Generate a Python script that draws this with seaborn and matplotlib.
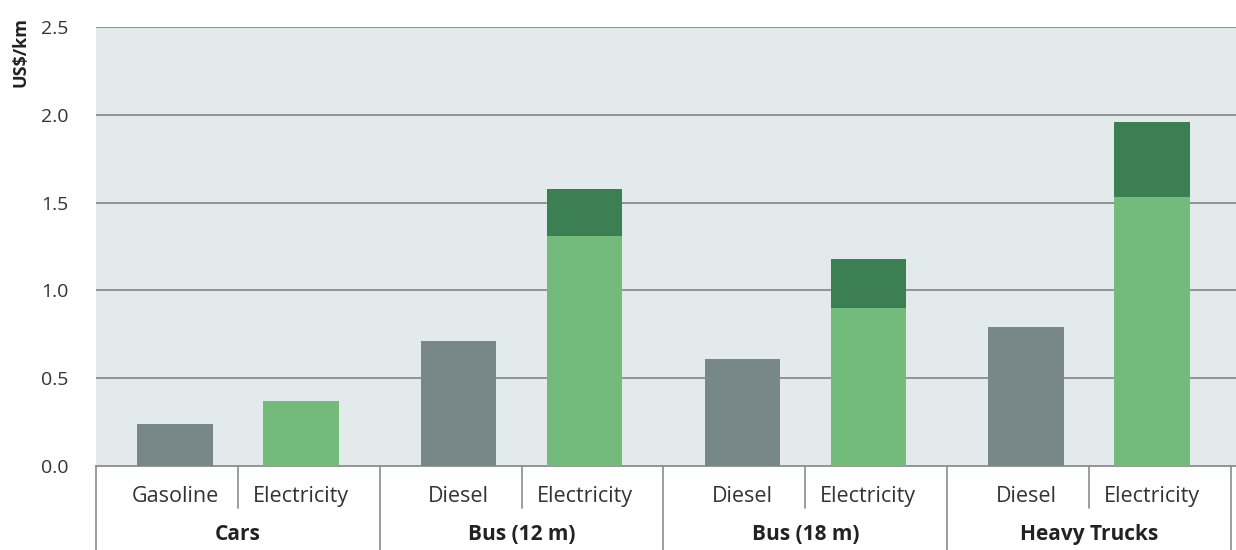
import pandas as pd
import numpy as np
import matplotlib.pyplot as plt
import seaborn as sns

# Data
groups = ['Cars', 'Bus (12 m)', 'Bus (18 m)', 'Heavy Trucks']
ice_fuels = ['Gasoline', 'Diesel', 'Diesel', 'Diesel']
ice_cost = [0.24, 0.71, 0.61, 0.79]
ev_base = [0.37, 1.31, 0.90, 1.53]
ev_extra = [0.00, 0.27, 0.28, 0.43]

grey = '#78878a'
light_green = '#72bb7b'
dark_green = '#3b7f52'
bg = '#e2eaec'

rows = []
for g, f, ic, eb, ee in zip(groups, ice_fuels, ice_cost, ev_base, ev_extra):
    rows.append({'group': g, 'kind': 'ICE', 'fuel': f, 'base': ic, 'total': ic})
    rows.append({'group': g, 'kind': 'EV', 'fuel': 'Electricity', 'base': eb, 'total': eb + ee})
df = pd.DataFrame(rows)

sns.set_style('white')
plt.rcParams['font.family'] = ['Open Sans', 'DejaVu Sans']

fig = plt.figure(figsize=(12.36, 5.5), dpi=100)
ax = fig.add_axes([96 / 1236, 84 / 550, 1140 / 1236, 439 / 550])
ax.set_facecolor(bg)

bar_kw = dict(x='group', hue='kind', hue_order=['ICE', 'EV'], order=groups,
              width=0.888, gap=0.4, dodge=True, legend=False, errorbar=None,
              saturation=1, linewidth=0, ax=ax, zorder=3)
# totals (dark green top part), then base on top
sns.barplot(data=df, y='total', palette={'ICE': grey, 'EV': dark_green}, **bar_kw)
sns.barplot(data=df, y='base', palette={'ICE': grey, 'EV': light_green}, **bar_kw)

ax.set_ylim(0, 2.5)
ax.set_xlim(-0.5, 3.5 + 5 / 283.7)
ax.set_yticks(np.arange(0, 2.51, 0.5))
ax.set_yticklabels([f'{v:.1f}' for v in np.arange(0, 2.51, 0.5)], fontsize=14, color='#333333')
ax.tick_params(axis='y', length=0, pad=20)
ax.set_xticks([])
ax.set_xlabel('')
ax.set_ylabel('')
for v in np.arange(0.5, 2.51, 0.5):
    ax.axhline(v, color='#8c8c8c', lw=1.3, zorder=1)
for s in ['top', 'right', 'left']:
    ax.spines[s].set_visible(False)
ax.spines['bottom'].set_color('#8c8c8c')
ax.spines['bottom'].set_linewidth(1.3)

fig.text(20 / 1236, 1 - 52 / 550, 'US$/km', rotation=90, ha='center', va='center',
         fontsize=13, fontweight='bold', color='#222222')

# two-level category axis below the plot
trans = ax.get_xaxis_transform()
off = 0.222
for i, g in enumerate(groups):
    ax.text(i - off, -0.0706, ice_fuels[i], transform=trans, ha='center', va='center',
            fontsize=15.5, color='#333333')
    ax.text(i + off, -0.0706, 'Electricity', transform=trans, ha='center', va='center',
            fontsize=15.5, color='#333333')
    ax.text(i, -0.155, g, transform=trans, ha='center', va='center',
            fontsize=15, fontweight='bold', color='#222222')
    ax.plot([i, i], [0, -0.0957], transform=trans, color='#8c8c8c', lw=1.2, clip_on=False)
for xb in [-0.5, 0.5, 1.5, 2.5, 3.5]:
    ax.plot([xb, xb], [0, -0.2], transform=trans, color='#8c8c8c', lw=1.2, clip_on=False)

fig.savefig('out.png', dpi=100)
